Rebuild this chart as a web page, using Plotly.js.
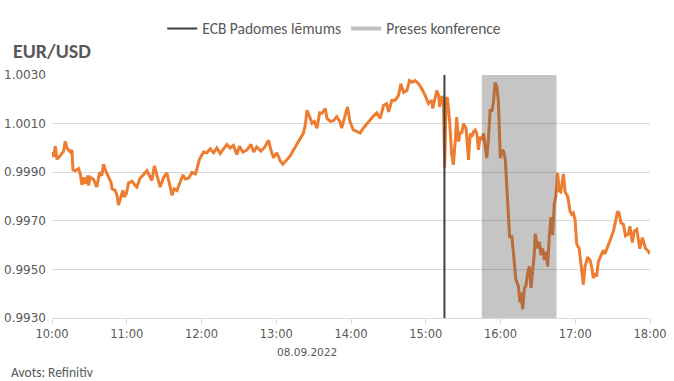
<!DOCTYPE html>
<html>
<head>
<meta charset="utf-8">
<script src="https://cdn.plot.ly/plotly-3.0.1.min.js"></script>
<style>html,body{margin:0;padding:0;background:#fff;}#chart{width:674px;height:381px;}</style>
</head>
<body>
<div id="chart"></div>
<script>
const day = "2022-09-08";
const times = [
"10:00:00","10:01:20","10:02:40","10:04:00","10:06:30","10:09:20","10:10:40","10:12:00","10:13:20","10:14:40",
"10:16:00","10:16:50","10:18:40","10:21:20","10:22:40","10:24:00","10:25:20","10:26:40","10:28:40","10:29:20",
"10:30:40","10:33:20","10:36:00","10:38:10","10:40:00","10:41:20","10:43:40","10:45:20","10:47:20","10:48:10",
"10:50:40","10:52:10","10:53:20","10:55:20","10:56:50","10:58:00","10:59:40","11:01:30","11:04:10","11:06:50",
"11:08:10","11:10:20","11:13:30","11:16:10","11:18:50","11:20:10","11:22:10","11:24:10","11:26:50","11:29:40",
"11:32:10","11:34:20","11:36:20","11:38:10","11:40:20","11:42:50","11:45:10","11:47:00","11:49:40","11:52:20",
"11:55:00","11:56:20","11:58:20","12:01:40","12:04:20","12:07:00","12:09:40","12:12:20","12:15:00","12:17:40",
"12:20:20","12:23:00","12:25:40","12:28:20","12:30:30","12:33:10","12:36:20","12:39:40","12:41:50","12:44:20",
"12:47:40","12:50:20","12:53:50","12:55:40","12:57:50","13:00:30","13:03:10","13:05:20","13:08:30","13:11:10",
"13:13:50","13:16:40","13:19:10","13:21:50","13:23:20","13:24:40","13:26:50","13:28:40","13:30:30","13:32:40",
"13:34:50","13:36:40","13:39:20","13:40:40","13:43:20","13:46:00","13:48:30","13:51:10","13:52:30","13:55:10",
"13:57:10","13:59:10","14:01:50","14:04:40","14:07:20","14:09:50","14:12:40","14:15:20","14:18:00","14:20:40",
"14:23:20","14:26:10","14:28:40","14:30:10","14:32:50","14:35:30","14:38:10","14:40:00","14:42:10","14:44:50",
"14:47:00","14:48:50","14:51:30","14:54:10","14:56:50","14:59:30","15:02:10","15:04:50","15:05:40","15:08:50",
"15:10:20","15:11:10","15:12:50","15:14:10","15:15:10","15:16:20","15:17:20","15:19:00","15:20:50","15:22:10",
"15:23:40","15:24:50","15:26:20","15:27:40","15:28:50","15:30:20","15:32:20","15:34:20","15:35:40","15:37:00",
"15:38:20","15:39:40","15:41:00","15:42:20","15:43:40","15:45:00","15:46:20","15:47:40","15:49:00","15:50:20",
"15:51:40","15:53:10","15:54:20","15:55:40","15:57:10","15:58:20","15:59:50","16:01:10","16:02:30","16:03:50",
"16:05:10","16:06:30","16:07:20","16:09:10","16:11:10","16:12:20","16:14:20","16:15:40","16:16:20","16:17:50",
"16:19:10","16:20:20","16:21:50","16:23:10","16:24:30","16:25:50","16:27:10","16:27:50","16:29:50","16:31:10",
"16:32:30","16:33:50","16:35:10","16:36:30","16:37:50","16:39:10","16:40:30","16:41:50","16:43:10","16:44:30",
"16:45:50","16:47:10","16:48:20","16:50:30","16:51:50","16:54:00","16:55:50","16:57:10","16:58:30","16:59:50",
"17:01:10","17:03:10","17:05:10","17:06:30","17:07:50","17:10:00","17:11:50","17:13:10","17:14:30","17:15:50",
"17:17:10","17:18:30","17:20:40","17:22:30","17:23:50","17:25:10","17:27:50","17:30:40","17:32:20","17:34:00",
"17:35:10","17:36:40","17:38:40","17:40:20","17:42:40","17:43:50","17:45:50","17:47:20","17:49:20","17:50:40",
"17:51:50","17:53:50","17:55:10","17:56:30","17:58:10","18:00:00"
];
const eurusd = [
0.99983,0.99964,1.00007,0.99953,0.99967,0.99987,1.00027,1.00000,0.99991,0.99983,
0.99991,0.99910,0.99906,0.99915,0.99893,0.99848,0.99879,0.99852,0.99886,0.99845,
0.99879,0.99870,0.99839,0.99899,0.99886,0.99933,0.99899,0.99879,0.99859,0.99832,
0.99825,0.99805,0.99765,0.99798,0.99825,0.99798,0.99812,0.99856,0.99862,0.99845,
0.99839,0.99872,0.99889,0.99906,0.99879,0.99866,0.99926,0.99893,0.99839,0.99879,
0.99897,0.99852,0.99805,0.99832,0.99825,0.99859,0.99889,0.99872,0.99875,0.99899,
0.99893,0.99913,0.99953,0.99983,0.99980,0.99996,0.99980,1.00000,0.99977,0.99996,
1.00014,1.00000,1.00010,0.99973,1.00007,0.99983,0.99991,1.00014,0.99983,1.00004,
0.99987,1.00000,1.00031,0.99991,0.99960,0.99980,0.99946,0.99933,0.99953,0.99967,
0.99991,1.00014,1.00034,1.00061,1.00095,1.00155,1.00128,1.00101,1.00109,1.00081,
1.00144,1.00142,1.00162,1.00122,1.00109,1.00112,1.00128,1.00108,1.00081,1.00128,
1.00169,1.00108,1.00074,1.00068,1.00061,1.00081,1.00101,1.00115,1.00131,1.00144,
1.00122,1.00175,1.00182,1.00148,1.00196,1.00196,1.00216,1.00264,1.00229,1.00236,
1.00277,1.00270,1.00277,1.00264,1.00243,1.00216,1.00182,1.00196,1.00162,1.00236,
1.00216,1.00169,1.00209,1.00208,0.99919,1.00201,1.00208,1.00120,0.99972,0.99931,
1.00026,1.00127,1.00026,1.00066,1.00059,1.00100,1.00080,0.99951,1.00059,1.00046,
1.00066,1.00073,1.00059,0.99992,1.00046,1.00032,1.00059,1.00005,0.99958,1.00039,
1.00154,1.00154,1.00188,1.00269,1.00249,1.00188,0.99958,0.99992,0.99985,0.99951,
0.99823,0.99701,0.99634,0.99634,0.99512,0.99458,0.99431,0.99364,0.99404,0.99336,
0.99424,0.99431,0.99485,0.99512,0.99424,0.99485,0.99566,0.99647,0.99586,0.99614,
0.99559,0.99586,0.99539,0.99573,0.99512,0.99634,0.99715,0.99641,0.99769,0.99803,
0.99897,0.99823,0.99819,0.99893,0.99819,0.99799,0.99739,0.99726,0.99732,0.99705,
0.99605,0.99585,0.99497,0.99437,0.99511,0.99551,0.99538,0.99511,0.99464,0.99484,
0.99470,0.99531,0.99558,0.99578,0.99564,0.99585,0.99618,0.99658,0.99705,0.99739,
0.99732,0.99692,0.99685,0.99638,0.99645,0.99678,0.99611,0.99658,0.99665,0.99625,
0.99585,0.99631,0.99605,0.99585,0.99578,0.99564
];
const decisionTime = "15:15:00";
const pressStart = "15:45:00";
const pressEnd = "16:45:00";
const yRange = [0.9930, 1.0030];
const xRange = ["10:00:00", "18:00:00"];
const xTickLabels = ["10:00","11:00","12:00","13:00","14:00","15:00","16:00","17:00","18:00"];
const seriesName = "EUR/USD";
const decisionName = "ECB Padomes lēmums";
const pressName = "Preses konference";
const dateLabel = "08.09.2022";
const sourceLabel = "Avots: Refinitiv";

const d = t => day + " " + t;
const FONT = 'Carlito, Liberation Sans Narrow, Liberation Sans, Arial, sans-serif';
const TICKFONT = 'DejaVu Sans, sans-serif';
const grey = "#595959";

const traces = [
  {x: times.map(d), y: eurusd, type: "scatter", mode: "lines", name: seriesName,
   line: {color: "#ED7D31", width: 3}, showlegend: false, hoverinfo: "skip"},
  {x: [d(decisionTime), d(decisionTime)], y: yRange, type: "scatter", mode: "lines",
   name: decisionName, line: {color: "#404040", width: 2}},
  {x: [null], y: [null], type: "scatter", mode: "lines", name: pressName,
   line: {color: "#BFBFBF", width: 4}}
];

const layout = {
  width: 674, height: 381,
  margin: {l: 52, r: 24, t: 72, b: 63},
  paper_bgcolor: "#fff", plot_bgcolor: "#fff",
  font: {family: FONT, color: grey, size: 12},
  showlegend: true,
  legend: {orientation: "h", x: 0.472, xanchor: "center", y: 1.19, yanchor: "middle",
           font: {size: 15.5, color: grey}, itemwidth: 30, tracegroupgap: 0},
  xaxis: {type: "date", range: xRange.map(d), tickvals: xTickLabels.map(d), ticktext: xTickLabels,
          showgrid: false, zeroline: false, showline: true, linecolor: "#D9D9D9", linewidth: 1,
          ticks: "outside", ticklen: 5, tickcolor: "#D9D9D9",
          tickfont: {family: TICKFONT, size: 11.5, color: grey}},
  yaxis: {range: yRange, dtick: 0.002, tick0: 0.993, tickformat: ".4f", showgrid: true,
          gridcolor: "#D9D9D9", zeroline: false, showline: false, ticks: "",
          tickfont: {family: TICKFONT, size: 12, color: grey}, ticklabelstandoff: 5},
  shapes: [
    {type: "rect", xref: "x", yref: "y", x0: d(pressStart), x1: d(pressEnd), y0: yRange[0], y1: yRange[1],
     fillcolor: "rgba(80,80,80,0.33)", line: {width: 0}, layer: "above"}
  ],
  annotations: [
    {text: "<b>" + seriesName + "</b>", xref: "paper", yref: "paper", x: -0.069, y: 1.097,
     xanchor: "left", yanchor: "middle", showarrow: false, font: {size: 20, color: grey}},
    {text: dateLabel, xref: "paper", yref: "paper", x: 0.426, y: -0.138,
     xanchor: "center", yanchor: "middle", showarrow: false, font: {family: TICKFONT, size: 10.5, color: grey}},
    {text: sourceLabel, xref: "paper", yref: "paper", x: -0.072, y: -0.224,
     xanchor: "left", yanchor: "middle", showarrow: false, font: {size: 13.5, color: grey}}
  ]
};

Plotly.newPlot("chart", traces, layout, {displayModeBar: false, staticPlot: true});
</script>
</body>
</html>
